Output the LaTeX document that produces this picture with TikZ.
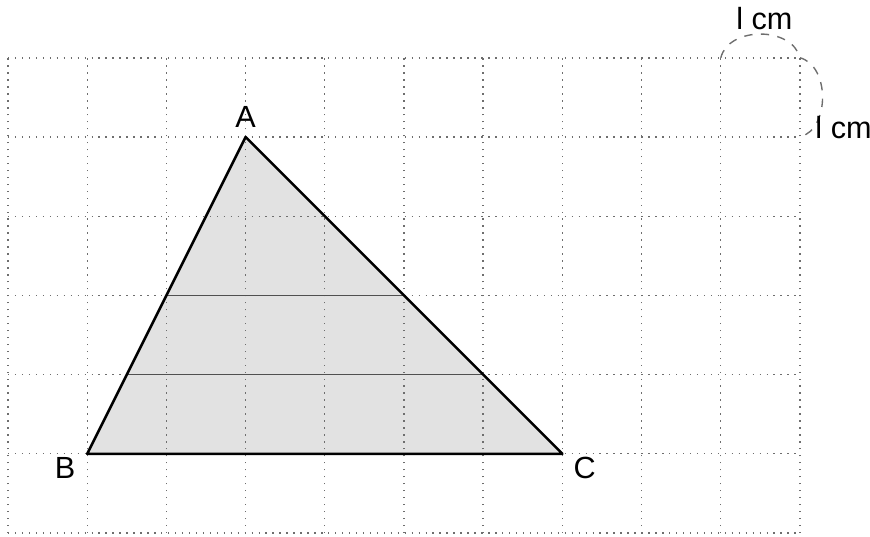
\documentclass[tikz,border=0pt]{standalone}
\usepackage{fontspec}
\setmainfont{Liberation Sans}
\definecolor{gridc}{RGB}{110,110,110}
\definecolor{innerc}{RGB}{80,80,80}
\definecolor{shadec}{RGB}{226,226,226}

\begin{document}
\begin{tikzpicture}[x=1cm,y=1cm,
  gridline/.style={gridc,dotted,line width=0.5pt},
  innerline/.style={innerc,line width=0.6pt},
  edge/.style={black,line width=0.9pt,line join=round},
  lab/.style={font=\fontsize{11}{13}\selectfont,inner sep=1pt},
  unitarc/.style={gridc,dashed,line width=0.5pt}]
\useasboundingbox (-0.101,-0.05) rectangle (10.884,6.73);
\coordinate (A) at (3,5);
\coordinate (B) at (1,1);
\coordinate (C) at (7,1);
\fill[shadec] (A)--(B)--(C)--cycle;
\foreach \i in {0,...,10} {
  \draw[gridline] (\i,0)--(\i,6);
}
\foreach \j in {0,...,6} {
  \draw[gridline] (0,\j)--(10,\j);
}
\begin{scope}
  \clip (A)--(B)--(C)--cycle;
  \foreach \j in {2,3} {
    \draw[innerline] (0,\j)--(10,\j);
  }
\end{scope}
\draw[edge] (A)--(B)--(C)--cycle;
\node[lab] (lA) at (3,5.25) {A};
\node[lab] (lB) at (0.72,0.82) {B};
\node[lab] (lC) at (7.28,0.82) {C};
% unit marks
\coordinate (u1) at (9,6);
\coordinate (u2) at (10,6);
\coordinate (u3) at (10,5);
\draw[unitarc] (u1) .. controls (9.1,6.4) and (9.9,6.4) .. (u2);
\draw[unitarc] (u2) .. controls (10.38,5.9) and (10.38,5.1) .. (u3);
\node[lab] (ltop) at (9.55,6.49) {l cm};
\node[lab] (lright) at (10.55,5.12) {l cm};
\end{tikzpicture}
\end{document}
